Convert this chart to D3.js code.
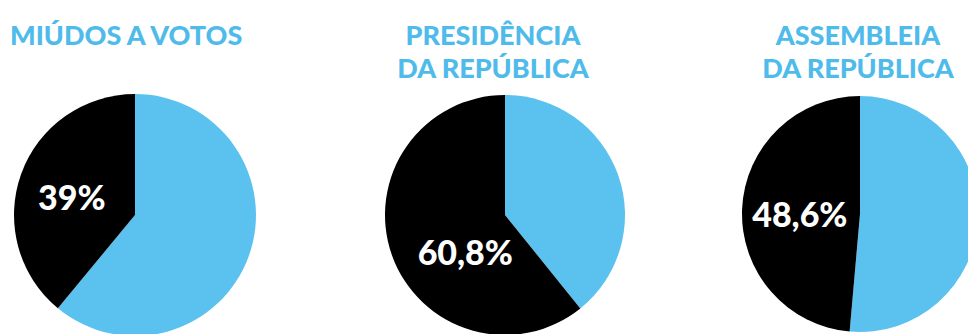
<!DOCTYPE html>
<html>
<head>
<meta charset="utf-8">
<script src="https://cdn.jsdelivr.net/npm/d3@7"></script>
<style>
  html, body { margin: 0; padding: 0; background: #fff; }
  svg { display: block; }
</style>
</head>
<body>
<div id="chart"></div>
<script>
// data
const titles = [
  ["MIÚDOS A VOTOS"],
  ["PRESIDÊNCIA", "DA REPÚBLICA"],
  ["ASSEMBLEIA", "DA REPÚBLICA"]
];
const blackShare = [39, 60.8, 48.6];
const labels = ["39%", "60,8%", "48,6%"];

// layout (not data)
const width = 968, height = 334;
const centers = [[135, 215], [505, 215], [860, 214]];
const radii = [121, 120, 118];
const titleX = [10, 493, 858];
const titleAnchor = ["start", "middle", "middle"];
const labelPolar = [[285, 0.54], [226, 0.46], [269, 0.51]];

const blue = "#5bc2f0";
const titleBlue = "#4fbbea";
const font = "Lato, 'Open Sans', sans-serif";

const svg = d3.select("#chart").append("svg")
  .attr("width", width)
  .attr("height", height);

const pie = d3.pie()
  .sort(null)
  .value(d => d.value);

blackShare.forEach((b, i) => {
  const slices = pie([
    { key: "blue", value: 100 - b },
    { key: "black", value: b }
  ]);
  const arc = d3.arc().innerRadius(0).outerRadius(radii[i]);

  const g = svg.append("g")
    .attr("transform", `translate(${centers[i][0]},${centers[i][1]})`);

  g.selectAll("path")
    .data(slices)
    .join("path")
    .attr("d", arc)
    .attr("fill", d => d.data.key === "blue" ? blue : "#000");

  const a = labelPolar[i][0] * Math.PI / 180;
  const rr = labelPolar[i][1] * radii[i];
  g.append("text")
    .attr("x", rr * Math.sin(a))
    .attr("y", -rr * Math.cos(a))
    .attr("dy", "0.35em")
    .attr("text-anchor", "middle")
    .attr("fill", "#fff")
    .style("font-family", font)
    .style("font-weight", 900)
    .style("font-size", "34px")
    .text(labels[i]);

  const t = svg.append("text")
    .attr("x", titleX[i])
    .attr("y", 45)
    .attr("text-anchor", titleAnchor[i])
    .attr("fill", titleBlue)
    .style("font-family", font)
    .style("font-weight", 900)
    .style("font-size", "27px");
  t.selectAll("tspan")
    .data(titles[i])
    .join("tspan")
    .attr("x", titleX[i])
    .attr("dy", (d, j) => j === 0 ? 0 : 33)
    .text(d => d);
});
</script>
</body>
</html>
